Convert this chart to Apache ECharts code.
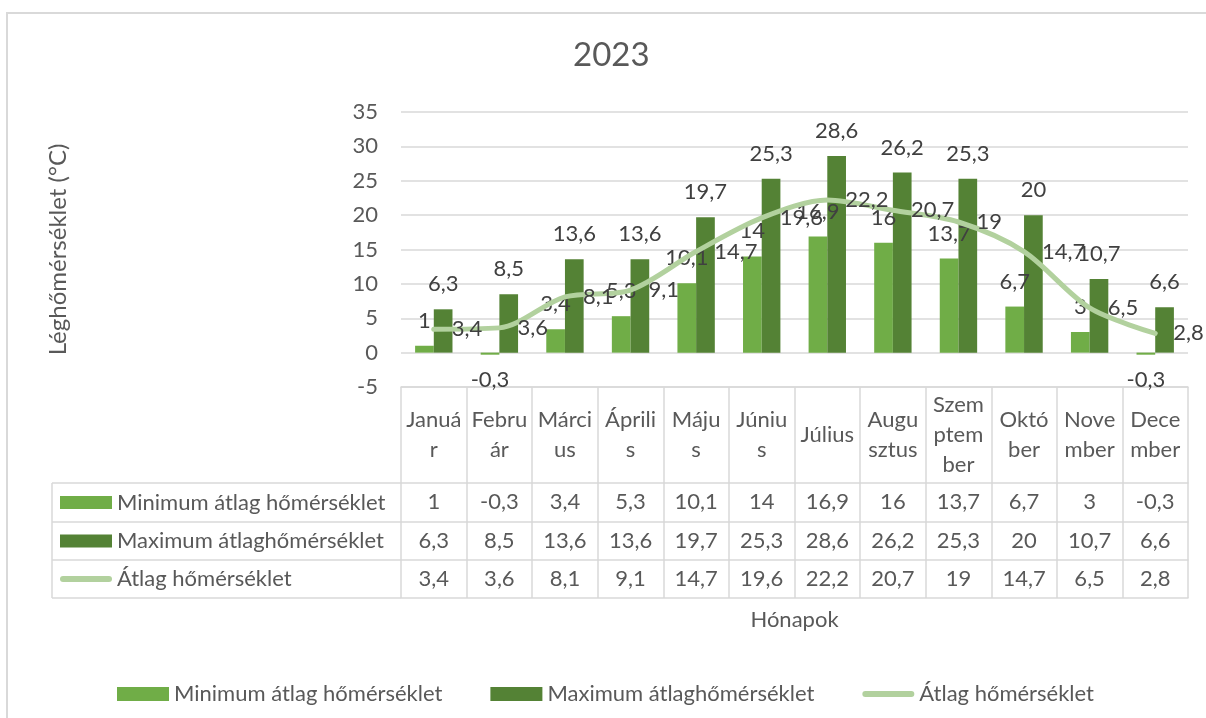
<!DOCTYPE html>
<html>
<head>
<meta charset="utf-8">
<title>2023</title>
<script src="https://cdn.jsdelivr.net/npm/echarts@6/dist/echarts.min.js"></script>
<style>
	html, body { margin: 0; padding: 0; background: #fff; }
	#chart { width: 1206px; height: 718px; }
</style>
</head>
<body>
<div id="chart"></div>
<script>
	// adatok
	var months = ['Januá\nr', 'Febru\nár', 'Márci\nus', 'Áprili\ns', 'Máju\ns', 'Júniu\ns', 'Július', 'Augu\nsztus', 'Szem\nptem\nber', 'Októ\nber', 'Nove\nmber', 'Dece\nmber'];
	var minTemp = [1, -0.3, 3.4, 5.3, 10.1, 14, 16.9, 16, 13.7, 6.7, 3, -0.3];
	var maxTemp = [6.3, 8.5, 13.6, 13.6, 19.7, 25.3, 28.6, 26.2, 25.3, 20, 10.7, 6.6];
	var avgTemp = [3.4, 3.6, 8.1, 9.1, 14.7, 19.6, 22.2, 20.7, 19, 14.7, 6.5, 2.8];
	var seriesNames = ['Minimum átlag hőmérséklet', 'Maximum átlaghőmérséklet', 'Átlag hőmérséklet'];
	var yMin = -5, yMax = 35, yStep = 5;

	var colors = ['#70ad47', '#548235', '#b2d19e'];
	var gridColor = '#d9d9d9';
	var font = 'Lato';
	var fs = 22;

	function fmt(v) {
		return String(v).replace('.', ',');
	}

	var myChart = echarts.init(document.getElementById('chart'));

	// táblázat sorai: tengely a sor alsó vonalán, felirat a sor közepén
	function rowAxis(offset, values) {
		return {
			type: 'category',
			data: months,
			position: 'bottom',
			offset: offset,
			axisLine: { onZero: false, lineStyle: { color: gridColor, width: 1.5 } },
			axisTick: { show: false },
			splitLine: { show: false },
			axisLabel: {
				show: !!values,
				interval: 0,
				margin: 19,
				verticalAlign: 'middle',
				fontSize: fs,
				color: '#595959',
				formatter: function (v, i) { return values ? fmt(values[i]) : ''; }
			}
		};
	}

	var rowY = [483, 522, 560, 598];
	var lineIcon = 'path://M0,0h0.01v0.01h-0.01z M3,4h46a3,3 0 0 1 0,6h-46a3,3 0 0 1 0,-6z M51.99,13.99h0.01v0.01h-0.01z';

	myChart.setOption({
		animation: false,
		textStyle: { fontFamily: font },
		title: {
			text: '2023',
			left: 573,
			top: 39,
			padding: 0,
			textStyle: { fontSize: 33, fontWeight: 'normal', color: '#595959', fontFamily: font }
		},
		legend: {
			left: 117,
			top: 683,
			padding: 0,
			itemWidth: 52,
			itemHeight: 14,
			itemGap: 48,
			textStyle: { fontSize: fs, color: '#595959' },
			data: [
				{ name: seriesNames[0], icon: 'rect' },
				{ name: seriesNames[1], icon: 'rect' },
				{ name: seriesNames[2], icon: lineIcon }
			]
		},
		grid: {
			left: 401,
			right: 18,
			top: 112,
			bottom: 331,
			containLabel: false,
			outerBoundsMode: 'none'
		},
		xAxis: [
			{
				type: 'category',
				data: months,
				position: 'bottom',
				axisLine: { onZero: false, lineStyle: { color: gridColor, width: 1.5 } },
				axisTick: { show: true, interval: 0, length: 211, lineStyle: { color: gridColor, width: 1.5 } },
				axisLabel: {
					interval: 0,
					margin: 48,
					verticalAlign: 'middle',
					lineHeight: 30,
					fontSize: fs,
					color: '#595959'
				},
				name: 'Hónapok',
				nameLocation: 'middle',
				nameGap: 222,
				nameTextStyle: { fontSize: fs, color: '#595959' }
			},
			rowAxis(rowY[0] - 387, minTemp),
			rowAxis(rowY[1] - 387, maxTemp),
			rowAxis(rowY[2] - 387, avgTemp),
			rowAxis(rowY[3] - 387, null)
		],
		yAxis: {
			type: 'value',
			min: yMin,
			max: yMax,
			interval: yStep,
			axisLine: { show: false },
			axisTick: { show: false },
			axisLabel: { margin: 23, fontSize: fs, color: '#595959' },
			splitLine: { lineStyle: { color: gridColor, width: 1.5 } },
			name: 'Léghőmérséklet (°C)',
			nameLocation: 'middle',
			nameGap: 331,
			nameTextStyle: { fontSize: 24, color: '#595959' }
		},
		series: [
			{
				name: seriesNames[0],
				type: 'bar',
				data: minTemp,
				itemStyle: { color: colors[0] },
				barGap: '0%',
				barCategoryGap: '43%',
				label: {
					show: true,
					position: 'outside',
					distance: 14,
					fontSize: fs,
					color: '#404040',
					formatter: function (p) { return fmt(p.value); }
				}
			},
			{
				name: seriesNames[1],
				type: 'bar',
				data: maxTemp,
				itemStyle: { color: colors[1] },
				barGap: '0%',
				barCategoryGap: '43%',
				label: {
					show: true,
					position: 'outside',
					distance: 14,
					fontSize: fs,
					color: '#404040',
					formatter: function (p) { return fmt(p.value); }
				}
			},
			{
				name: seriesNames[2],
				type: 'line',
				data: avgTemp,
				smooth: 0.3,
				symbol: 'circle',
				symbolSize: 4,
				itemStyle: { color: colors[2] },
				lineStyle: { color: colors[2], width: 5, cap: 'round' },
				label: {
					show: true,
					position: 'right',
					distance: 16,
					fontSize: fs,
					color: '#404040',
					formatter: function (p) { return fmt(p.value); }
				}
			}
		],
		graphic: [
			// diagram keret
			{ type: 'rect', shape: { x: 7, y: 13, width: 1300, height: 800 }, style: { fill: 'none', stroke: gridColor, lineWidth: 2 }, silent: true },
			// táblázat bal oszlopa
			{ type: 'line', shape: { x1: 52, y1: rowY[0], x2: 401, y2: rowY[0] }, style: { stroke: gridColor, lineWidth: 1.5 } },
			{ type: 'line', shape: { x1: 52, y1: rowY[1], x2: 401, y2: rowY[1] }, style: { stroke: gridColor, lineWidth: 1.5 } },
			{ type: 'line', shape: { x1: 52, y1: rowY[2], x2: 401, y2: rowY[2] }, style: { stroke: gridColor, lineWidth: 1.5 } },
			{ type: 'line', shape: { x1: 52, y1: rowY[3], x2: 401, y2: rowY[3] }, style: { stroke: gridColor, lineWidth: 1.5 } },
			{ type: 'line', shape: { x1: 52, y1: rowY[0], x2: 52, y2: rowY[3] }, style: { stroke: gridColor, lineWidth: 1.5 } },
			{ type: 'rect', shape: { x: 60, y: 496, width: 52, height: 13 }, style: { fill: colors[0] } },
			{ type: 'rect', shape: { x: 60, y: 534.5, width: 52, height: 13 }, style: { fill: colors[1] } },
			{ type: 'rect', shape: { x: 60, y: 576, width: 52, height: 6, r: 3 }, style: { fill: colors[2] } },
			{ type: 'text', x: 117, y: (rowY[0] + rowY[1]) / 2, style: { text: seriesNames[0], font: fs + 'px ' + font, fill: '#595959', verticalAlign: 'middle' } },
			{ type: 'text', x: 117, y: (rowY[1] + rowY[2]) / 2, style: { text: seriesNames[1], font: fs + 'px ' + font, fill: '#595959', verticalAlign: 'middle' } },
			{ type: 'text', x: 117, y: (rowY[2] + rowY[3]) / 2, style: { text: seriesNames[2], font: fs + 'px ' + font, fill: '#595959', verticalAlign: 'middle' } }
		]
	});
</script>
</body>
</html>
